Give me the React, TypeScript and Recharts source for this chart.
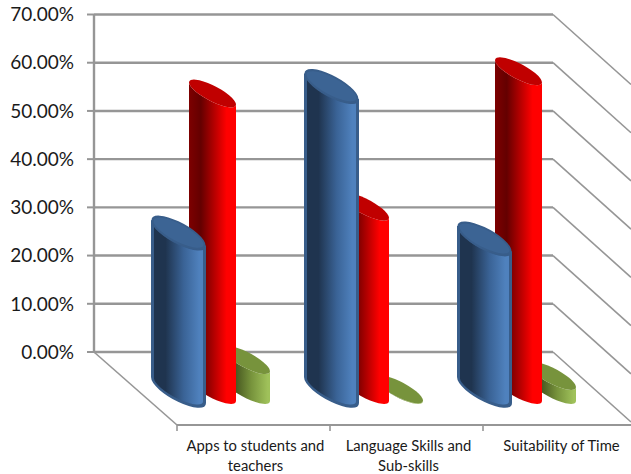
import { BarChart, Bar, XAxis, YAxis, CartesianGrid, Text } from 'recharts';

const categories = ['Apps to students and teachers', 'Language Skills and Sub-skills', 'Suitability of Time'];
const blueValues = [32.6, 63, 31.4];
const redValues = [61.5, 38, 66.1];
const greenValues = [6.2, 0.1, 2.9];
const yTicks = [0, 10, 20, 30, 40, 50, 60, 70];

const data = categories.map((name, i) => ({
  name,
  blue: blueValues[i],
  red: redValues[i],
  green: greenValues[i],
}));

// how far the floor comes forward from the back wall
const DEPTH_X = 83;
const DEPTH_Y = 73;
const BAR_FRONT_Y = 38;
const BAR_W = 47;
const SHEAR = 0.47;

const FONT = 'Lato, sans-serif';
const LINE = '#969696';

// sheared cylinder: the body is a path, the cap an ellipse on top of it
function cylinder(gradient: string, cap: string, shiftX: number, rx: number, ry: number, stroke?: string) {
  return (props: any) => {
    const { x, y, width, height } = props;
    const cx = x + width / 2 + shiftX;
    const h = Math.max(height, 0);
    const matrix = `matrix(1 ${SHEAR} 0 1 ${cx} ${y + BAR_FRONT_Y})`;
    const body = `M${-rx} 0 L${-rx} ${h} A${rx} ${ry} 0 0 0 ${rx} ${h} L${rx} 0 A${rx} ${ry} 0 0 1 ${-rx} 0 Z`;
    return (
      <g transform={matrix}>
        <path d={body} fill={`url(#${gradient})`} stroke={stroke} strokeWidth={stroke ? 3 : 0} />
        <ellipse rx={rx} ry={ry} fill={cap} stroke={stroke} strokeWidth={stroke ? 2 : 0} />
      </g>
    );
  };
}

// back wall line, plus its run along the right side wall; the 0% line also draws the floor edges
function WallLine(props: any) {
  const { x1, x2, y1 } = props;
  const isFloor = y1 > 340;
  return (
    <g fill="none">
      <line x1={x1} x2={x2} y1={y1} y2={y1} stroke={LINE} strokeWidth={2.4} />
      <line x1={x2} x2={x2 + 78} y1={y1} y2={y1 + 70} stroke={LINE} strokeWidth={1.6} />
      {isFloor && (
        <>
          <line x1={x1} x2={x1 + DEPTH_X} y1={y1} y2={y1 + DEPTH_Y} stroke={LINE} strokeWidth={1.6} />
          <line x1={x1 + DEPTH_X} x2={631} y1={y1 + DEPTH_Y} y2={y1 + DEPTH_Y} stroke={LINE} strokeWidth={2} />
        </>
      )}
    </g>
  );
}

function CategoryTick(props: any) {
  const { x, payload } = props;
  const bandLeft = x - 153 / 2 + DEPTH_X;
  return (
    <g>
      <line x1={bandLeft} x2={bandLeft} y1={425} y2={431} stroke={LINE} strokeWidth={1.6} />
      <Text
        x={x + DEPTH_X + 2}
        y={440}
        width={150}
        textAnchor="middle"
        verticalAnchor="start"
        lineHeight={20}
        fontFamily={FONT}
        fontSize={14.8}
        fill="#1a1a1a"
      >
        {payload.value}
      </Text>
    </g>
  );
}

export default function App() {
  return (
    <div style={{ position: 'absolute', left: 0, top: 0, width: 631, height: 474, background: '#fff' }}>
      <BarChart
        width={631}
        height={474}
        data={data}
        barSize={BAR_W}
        barGap={-BAR_W}
        margin={{ top: 14.5, right: 78, bottom: 0, left: 0 }}
      >
        <defs>
          <linearGradient id="blueSide" x1="0" y1="0" x2="1" y2="0">
            <stop offset="0.25" stopColor="#1f344f" />
            <stop offset="0.6" stopColor="#3a6396" />
            <stop offset="0.9" stopColor="#4f81bd" />
          </linearGradient>
          <linearGradient id="redSide" x1="0" y1="0" x2="1" y2="0">
            <stop offset="0" stopColor="#7d0000" />
            <stop offset="0.25" stopColor="#640000" />
            <stop offset="0.8" stopColor="#ff0000" />
          </linearGradient>
          <linearGradient id="greenSide" x1="0" y1="0" x2="1" y2="0">
            <stop offset="0.25" stopColor="#45551f" />
            <stop offset="0.6" stopColor="#77933c" />
            <stop offset="0.95" stopColor="#9fc15a" />
          </linearGradient>
        </defs>
        <CartesianGrid vertical={false} horizontal={WallLine} />
        <XAxis dataKey="name" axisLine={false} tickLine={false} height={122} interval={0} tick={CategoryTick} />
        <YAxis
          domain={[0, 70]}
          ticks={yTicks}
          width={94}
          axisLine={{ stroke: LINE, strokeWidth: 2.4 }}
          tickLine={{ stroke: LINE, strokeWidth: 2 }}
          tickSize={7}
          tickMargin={13}
          tickFormatter={(v) => `${v.toFixed(2)}%`}
          tick={{ fontFamily: FONT, fontSize: 19, fill: '#1a1a1a' }}
        />
        <Bar dataKey="green" isAnimationActive={false} shape={cylinder('greenSide', '#77933c', 76, 23.5, 8.5)} />
        <Bar dataKey="red" isAnimationActive={false} shape={cylinder('redSide', '#c00000', 42, 23.5, 8.5)} />
        <Bar dataKey="blue" isAnimationActive={false} shape={cylinder('blueSide', '#3c6494', 8, 26, 10.5, '#385d8a')} />
      </BarChart>
    </div>
  );
}
